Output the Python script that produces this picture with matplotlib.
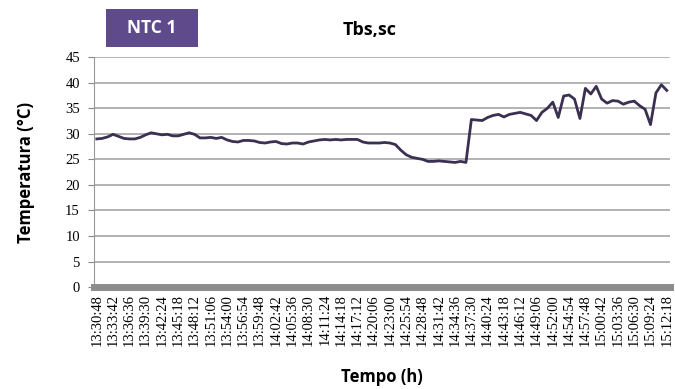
import numpy as np
import matplotlib.pyplot as plt
from matplotlib.patches import FancyBboxPatch

# Dati: temperatura letta ogni 58 s a partire dalle 13:30:48
start_label = "13:30:48"
step_s = 58
temperature = [
    29.0, 29.1, 29.4, 29.9, 29.5, 29.1, 29.0, 29.0, 29.3, 29.8,
    30.2, 30.0, 29.8, 29.9, 29.6, 29.6, 29.9, 30.2, 29.9, 29.2,
    29.2, 29.3, 29.1, 29.3, 28.8, 28.5, 28.4, 28.7, 28.7, 28.6,
    28.3, 28.2, 28.4, 28.5, 28.1, 28.0, 28.2, 28.2, 28.0, 28.4,
    28.6, 28.8, 28.9, 28.8, 28.9, 28.8, 28.9, 28.9, 28.9, 28.4,
    28.2, 28.2, 28.2, 28.3, 28.2, 27.9, 26.8, 25.9, 25.4, 25.2,
    25.0, 24.6, 24.6, 24.7, 24.6, 24.5, 24.4, 24.6, 24.4, 32.8,
    32.7, 32.6, 33.2, 33.6, 33.8, 33.3, 33.8, 34.0, 34.2, 33.9,
    33.6, 32.6, 34.2, 35.0, 36.2, 33.2, 37.4, 37.6, 36.8, 33.0,
    38.9, 37.8, 39.3, 36.8, 36.0, 36.5, 36.4, 35.8, 36.2, 36.4,
    35.5, 34.8, 31.8, 38.0, 39.6, 38.5,
]
tick_labels = [
    "13:30:48", "13:33:42", "13:36:36", "13:39:30", "13:42:24", "13:45:18",
    "13:48:12", "13:51:06", "13:54:00", "13:56:54", "13:59:48", "14:02:42",
    "14:05:36", "14:08:30", "14:11:24", "14:14:18", "14:17:12", "14:20:06",
    "14:23:00", "14:25:54", "14:28:48", "14:31:42", "14:34:36", "14:37:30",
    "14:40:24", "14:43:18", "14:46:12", "14:49:06", "14:52:00", "14:54:54",
    "14:57:48", "15:00:42", "15:03:36", "15:06:30", "15:09:24", "15:12:18",
]
y_ticks = [0, 5, 10, 15, 20, 25, 30, 35, 40, 45]


def to_seconds(s):
    h, m, sec = (int(v) for v in s.split(":"))
    return h * 3600 + m * 60 + sec


t0 = to_seconds(start_label)
t = np.arange(len(temperature)) * step_s
tick_pos = [to_seconds(s) - t0 for s in tick_labels]

fig = plt.figure(figsize=(6.75, 3.89), dpi=100)
ax = fig.add_axes([0.139, 0.262, 0.853, 0.591])

for y in y_ticks[1:]:
    ax.axhline(y, color='#a6a6a6', lw=1.2, zorder=1)
ax.plot(t, temperature, color='#3b2f52', lw=2, zorder=3)

ax.set_ylim(0, 45)
ax.set_xlim(-32, 6120)
ax.set_yticks(y_ticks)
ax.set_xticks(tick_pos)
ax.set_xticklabels(tick_labels, rotation=90, family='Liberation Serif', fontsize=10.5)
for lab in ax.get_yticklabels():
    lab.set_family('Liberation Serif')
    lab.set_fontsize(10.5)
ax.tick_params(axis='y', length=4, color='#888888', pad=6)
ax.tick_params(axis='x', length=0, pad=5)

for side in ['top', 'right']:
    ax.spines[side].set_visible(False)
ax.spines['left'].set_color('#999999')
ax.spines['bottom'].set_color('#8c8c8c')
ax.spines['bottom'].set_linewidth(5)

ax.set_ylabel('Temperatura (°C)', family='Open Sans', fontweight='bold',
              fontsize=12, labelpad=22)
ax.set_xlabel('Tempo (h)', family='Open Sans', fontweight='bold',
              fontsize=12, labelpad=16)

fig.text(0.548, 0.922, 'Tbs,sc', family='Open Sans', fontweight='bold',
         fontsize=13, ha='center', va='center')

box = FancyBboxPatch((106 / 675, 1 - 47 / 389), 92 / 675, 38 / 389,
                     boxstyle='square,pad=0', transform=fig.transFigure,
                     facecolor='#5f4a8b', edgecolor='none')
fig.patches.append(box)
fig.text(152 / 675, 1 - 28 / 389, 'NTC 1', family='Open Sans', fontweight='bold',
         fontsize=12.5, color='white', ha='center', va='center')

fig.savefig('out.png', dpi=100)
